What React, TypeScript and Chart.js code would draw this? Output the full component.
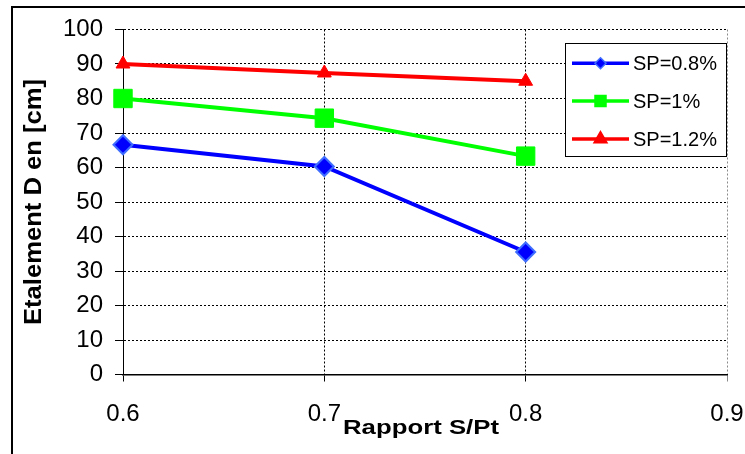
import React, { useEffect, useRef } from 'react';
import { Chart, registerables } from 'chart.js';

Chart.register(...registerables);

const ratios = [0.6, 0.7, 0.8];
const seriesLabels = ['SP=0.8%', 'SP=1%', 'SP=1.2%'];
const sp08 = [66.6, 60.3, 35.5];
const sp1 = [80, 74.3, 63.3];
const sp12 = [90, 87.4, 85];
const xTickValues = [0.6, 0.7, 0.8, 0.9];
const yTickValues = [0, 10, 20, 30, 40, 50, 60, 70, 80, 90, 100];
const xTitle = 'Rapport S/Pt';
const yTitle = 'Etalement D en [cm]';

const FONT = '"Liberation Sans", Arial, Helvetica, sans-serif';

const seriesStyles = [
  { color: '#0000FF', border: '#3F6DFF', shape: 'diamond' },
  { color: '#00FF00', border: '#00FF00', shape: 'square' },
  { color: '#FF0000', border: '#FF0000', shape: 'triangle' },
];

function drawMarker(ctx: CanvasRenderingContext2D, shape: string, x: number, y: number, fill: string, stroke: string) {
  ctx.save();
  ctx.fillStyle = fill;
  ctx.strokeStyle = stroke;
  ctx.lineWidth = 1.5;
  ctx.beginPath();
  if (shape === 'diamond') {
    const r = 5.5;
    ctx.moveTo(x, y - r);
    ctx.lineTo(x + r, y);
    ctx.lineTo(x, y + r);
    ctx.lineTo(x - r, y);
    ctx.closePath();
  } else if (shape === 'square') {
    const h = 5.5;
    ctx.rect(x - h, y - h, 2 * h, 2 * h);
  } else {
    const r = 7.5;
    ctx.moveTo(x, y - r);
    ctx.lineTo(x + r * 0.866, y + r * 0.5);
    ctx.lineTo(x - r * 0.866, y + r * 0.5);
    ctx.closePath();
  }
  ctx.fill();
  ctx.stroke();
  ctx.restore();
}

const decorPlugin = {
  id: 'decor',
  afterDraw(chart: any) {
    const ctx: CanvasRenderingContext2D = chart.ctx;
    const area = chart.chartArea;
    ctx.save();
    // outer frame
    ctx.strokeStyle = '#000';
    ctx.lineWidth = 2;
    ctx.strokeRect(12, 7, 900, 600);

    // x title
    ctx.fillStyle = '#000';
    ctx.font = 'bold 21px ' + FONT;
    const xw = ctx.measureText(xTitle).width;
    ctx.save();
    ctx.translate((area.left + area.right) / 2 - 4, 434);
    ctx.scale(156 / xw, 1);
    ctx.textAlign = 'center';
    ctx.textBaseline = 'alphabetic';
    ctx.fillText(xTitle, 0, 0);
    ctx.restore();

    // y title
    ctx.font = 'bold 23px ' + FONT;
    const yw = ctx.measureText(yTitle).width;
    ctx.save();
    ctx.translate(40.5, (area.top + area.bottom) / 2);
    ctx.rotate(-Math.PI / 2);
    ctx.scale(246 / yw, 1);
    ctx.textAlign = 'center';
    ctx.textBaseline = 'alphabetic';
    ctx.fillText(yTitle, 0, 0);
    ctx.restore();

    // legend
    const lx = 565, ly = 43.5, lw = 161, lh = 113;
    ctx.fillStyle = '#fff';
    ctx.fillRect(lx, ly, lw, lh);
    ctx.strokeStyle = '#000';
    ctx.lineWidth = 1;
    ctx.strokeRect(lx + 0.5, ly, lw, lh);
    const rows = [63.3, 101, 139];
    chart.data.datasets.forEach((ds: any, i: number) => {
      const st = seriesStyles[i];
      const y = rows[i];
      ctx.strokeStyle = st.color;
      ctx.lineWidth = 3.5;
      ctx.beginPath();
      ctx.moveTo(572, y);
      ctx.lineTo(629, y);
      ctx.stroke();
      drawMarker(ctx, st.shape, 600.5, y, st.color, st.border);
      ctx.fillStyle = '#000';
      ctx.font = '20px ' + FONT;
      ctx.textAlign = 'left';
      ctx.textBaseline = 'middle';
      ctx.fillText(ds.label, 633, y + 1);
    });
    ctx.restore();
  },
};

export default function App() {
  const ref = useRef<HTMLCanvasElement>(null);

  useEffect(() => {
    if (!ref.current) return;
    const mk = (vals: number[]) => ratios.map((x, i) => ({ x, y: vals[i] }));
    const chart = new Chart(ref.current, {
      type: 'line',
      data: {
        datasets: [
          {
            label: seriesLabels[0],
            data: mk(sp08),
            borderColor: seriesStyles[0].color,
            backgroundColor: seriesStyles[0].color,
            borderWidth: 4,
            pointStyle: 'rectRot',
            pointRadius: 9.5,
            pointBorderColor: seriesStyles[0].border,
            pointBorderWidth: 2,
            pointBackgroundColor: seriesStyles[0].color,
            clip: false,
          },
          {
            label: seriesLabels[1],
            data: mk(sp1),
            borderColor: seriesStyles[1].color,
            backgroundColor: seriesStyles[1].color,
            borderWidth: 4,
            pointStyle: 'rect',
            pointRadius: 13,
            pointBorderWidth: 1,
            pointBorderColor: seriesStyles[1].color,
            pointBackgroundColor: seriesStyles[1].color,
            clip: false,
          },
          {
            label: seriesLabels[2],
            data: mk(sp12),
            borderColor: seriesStyles[2].color,
            backgroundColor: seriesStyles[2].color,
            borderWidth: 4,
            pointStyle: 'triangle',
            pointRadius: 8,
            pointBorderWidth: 1,
            pointBorderColor: seriesStyles[2].color,
            pointBackgroundColor: seriesStyles[2].color,
            clip: false,
          },
        ],
      },
      options: {
        animation: false,
        responsive: false,
        events: [],
        layout: { padding: { left: 0, top: 29.5, right: 18, bottom: 0 } },
        plugins: {
          legend: { display: false },
          tooltip: { enabled: false },
        },
        scales: {
          x: {
            type: 'linear',
            min: 0.6,
            max: 0.9,
            afterBuildTicks: (scale: any) => {
              scale.ticks = xTickValues.map((v) => ({ value: v }));
            },
            afterFit: (scale: any) => {
              scale.height = 79.5;
              scale.paddingLeft = 0;
              scale.paddingRight = 0;
            },
            ticks: {
              color: '#000',
              font: { family: FONT, size: 24 },
              padding: 18,
              maxRotation: 0,
              autoSkip: false,
              callback: (v: any) => Number(v).toFixed(1),
            },
            grid: {
              color: (c: any) => (c.tick && Math.abs(c.tick.value - 0.9) < 1e-6 ? '#8a8a8a' : '#000'),
              tickColor: (c: any) => (c.tick && Math.abs(c.tick.value - 0.9) < 1e-6 ? '#8a8a8a' : '#000'),
              lineWidth: 1,
              tickLength: 7,
              tickBorderDash: [],
            },
            border: { display: true, color: '#000', width: 1.5, dash: [2, 2] },
          },
          y: {
            type: 'linear',
            min: 0,
            max: 100,
            afterBuildTicks: (scale: any) => {
              scale.ticks = yTickValues.map((v) => ({ value: v }));
            },
            afterFit: (scale: any) => {
              scale.width = 123;
              scale.paddingTop = 0;
              scale.paddingBottom = 0;
            },
            ticks: {
              color: '#000',
              font: { family: FONT, size: 24 },
              padding: 12,
              autoSkip: false,
            },
            grid: {
              color: '#000',
              tickColor: '#000',
              lineWidth: 1,
              tickLength: 8,
              tickBorderDash: [],
            },
            border: { display: true, color: '#000', width: 1, dash: [2, 2] },
          },
        },
      },
      plugins: [decorPlugin],
    });
    return () => chart.destroy();
  }, []);

  return (
    <div style={{ position: 'fixed', left: 0, top: 0, width: 745, height: 454, background: '#fff' }}>
      <canvas ref={ref} width={745} height={454} style={{ display: 'block' }} />
    </div>
  );
}
